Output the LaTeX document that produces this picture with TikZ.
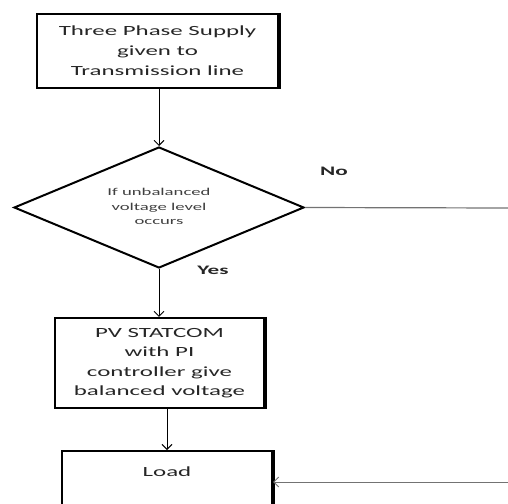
\documentclass[tikz,border=0pt]{standalone}
\usepackage{fontspec}
\setmainfont{Carlito}[FakeStretch=1.78]
\usetikzlibrary{shapes.geometric,arrows.meta}
\begin{document}
\begin{tikzpicture}[x=1pt,y=-1pt,
  box/.style={draw, line width=2.2pt, align=center, inner sep=0pt, text=black!85},
  decision/.style={draw, diamond, aspect=2.4, line width=2pt, align=center, inner sep=0pt,
    minimum width=290pt, minimum height=121pt, text=black!75,
    font=\fontsize{10.5}{14.5}\selectfont},
  arr/.style={-{Straight Barb[length=5pt,width=10pt]}, line width=0.9pt},
  grayline/.style={draw=black!55, line width=1.2pt},
  lbl/.style={font=\bfseries\fontsize{13}{15}\selectfont, text=black!85, inner sep=0pt}]
\useasboundingbox (0,0) rectangle (508,503);

\node[box, minimum width=241pt, minimum height=74pt,
  font=\fontsize{14}{20}\selectfont] (top) at (157.5,51)
  {Three Phase Supply\\given to\\Transmission line};
\draw[line width=3.2pt] (top.north east) -- (top.south east);

\node[decision] (dia) at (159,207.5) {\raisebox{3pt}{\begin{tabular}{@{}c@{}}If unbalanced\\voltage level\\occurs\end{tabular}}};

\node[box, minimum width=209pt, minimum height=90pt,
  font=\fontsize{14}{19.5}\selectfont] (pv) at (159.5,363)
  {PV STATCOM\\with PI\\controller give\\balanced voltage};
\draw[line width=3.2pt] (pv.north east) -- (pv.south east);

\node[box, minimum width=210pt, inner ysep=5pt, text height=20pt, text depth=40pt,
  font=\fontsize{14}{19}\selectfont, anchor=north] (load) at (167,450) {Load};
\draw[line width=4pt] (load.north east) -- (load.south east);

\node[lbl] (no) at (334,171) {No};
\node[lbl] (yes) at (213,270) {Yes};

\coordinate (nend) at (508,208);
\coordinate (rin) at (508,482);

\draw[arr] (top.south -| dia.north) -- (dia.north);
\draw[arr] (dia.south) -- (dia.south |- pv.north);
\draw[arr] (pv.south -| load.north) -- (load.north);
\draw[grayline] (dia.east) -- (nend);
\draw[grayline, arr, draw=black!55] (rin) -- (rin -| load.east);
\end{tikzpicture}
\end{document}
